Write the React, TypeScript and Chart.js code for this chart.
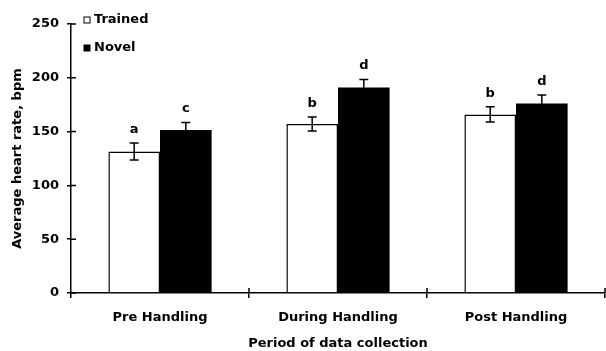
import React, { useEffect, useRef } from "react";
import { Chart, registerables } from "chart.js";

Chart.register(...registerables);

const categories = ["Pre Handling", "During Handling", "Post Handling"];
const trainedValues = [131.5, 157, 166];
const novelValues = [151.5, 191, 176];
const trainedErrors = [8, 6.5, 7];
const novelErrors = [7, 7.5, 8];
const trainedLetters = ["a", "b", "b"];
const novelLetters = ["c", "d", "d"];
const seriesNames = ["Trained", "Novel"];
const yMin = 0;
const yMax = 250;
const yStep = 50;
const xTitle = "Period of data collection";
const yTitle = "Average heart rate, bpm";

const FONT = "'DejaVu Sans', sans-serif";

const errorBarPlugin = {
  id: "errorBars",
  afterDatasetsDraw(chart: any) {
    const ctx = chart.ctx;
    const yScale = chart.scales.y;
    chart.data.datasets.forEach((ds: any, di: number) => {
      const meta = chart.getDatasetMeta(di);
      const errs: number[] = ds.errors;
      const letters: string[] = ds.letters;
      meta.data.forEach((el: any, i: number) => {
        const v = ds.data[i];
        const e = errs[i];
        const x = el.x;
        const yTop = yScale.getPixelForValue(v + e);
        const yBot = yScale.getPixelForValue(v - e);
        ctx.save();
        ctx.strokeStyle = "#000";
        ctx.lineWidth = 1.5;
        ctx.beginPath();
        ctx.moveTo(x, yTop);
        ctx.lineTo(x, yBot);
        ctx.moveTo(x - 4.5, yTop);
        ctx.lineTo(x + 4.5, yTop);
        ctx.moveTo(x - 4.5, yBot);
        ctx.lineTo(x + 4.5, yBot);
        ctx.stroke();
        ctx.fillStyle = "#000";
        ctx.font = `bold 13px ${FONT}`;
        ctx.textAlign = "center";
        ctx.textBaseline = "alphabetic";
        ctx.fillText(letters[i], x, yTop - 10);
        ctx.restore();
      });
    });
  },
};

const crossTickPlugin = {
  id: "crossTicks",
  afterDraw(chart: any) {
    const ctx = chart.ctx;
    const { left, right, bottom } = chart.chartArea;
    const yScale = chart.scales.y;
    ctx.save();
    ctx.strokeStyle = "#000";
    ctx.lineWidth = 1.5;
    ctx.beginPath();
    yScale.ticks.forEach((t: any) => {
      const y = yScale.getPixelForValue(t.value);
      ctx.moveTo(left, y);
      ctx.lineTo(left + 5, y);
    });
    const n = chart.data.labels.length;
    for (let i = 1; i <= n; i++) {
      const x = left + ((right - left) * i) / n;
      ctx.moveTo(x, bottom);
      ctx.lineTo(x, bottom - 5);
    }
    ctx.stroke();
    ctx.restore();
  },
};

const legendPlugin = {
  id: "customLegend",
  afterDraw(chart: any) {
    const ctx = chart.ctx;
    const { left, top } = chart.chartArea;
    ctx.save();
    ctx.font = `bold 13px ${FONT}`;
    ctx.textBaseline = "middle";
    ctx.textAlign = "left";
    chart.data.datasets.forEach((ds: any, i: number) => {
      const cy = top - 4 + i * 28;
      ctx.fillStyle = ds.backgroundColor;
      ctx.fillRect(left + 13, cy - 3, 6, 6);
      ctx.strokeStyle = "#000";
      ctx.lineWidth = 1;
      ctx.strokeRect(left + 13, cy - 3, 6, 6);
      ctx.fillStyle = "#000";
      ctx.fillText(ds.label, left + 23, cy);
    });
    ctx.restore();
  },
};

export default function App() {
  const ref = useRef<HTMLCanvasElement | null>(null);
  useEffect(() => {
    if (!ref.current) return;
    const chart = new Chart(ref.current, {
      type: "bar",
      data: {
        labels: categories,
        datasets: [
          {
            label: seriesNames[0],
            data: trainedValues,
            backgroundColor: "#ffffff",
            borderColor: "#000000",
            borderWidth: 1.5,
            categoryPercentage: 0.58,
            barPercentage: 1,
            errors: trainedErrors,
            letters: trainedLetters,
          } as any,
          {
            label: seriesNames[1],
            data: novelValues,
            backgroundColor: "#000000",
            borderColor: "#000000",
            borderWidth: 0,
            categoryPercentage: 0.58,
            barPercentage: 1,
            errors: novelErrors,
            letters: novelLetters,
          } as any,
        ],
      },
      options: {
        responsive: false,
        animation: false,
        devicePixelRatio: 1,
        layout: { padding: { top: 24, right: 1, left: 0, bottom: 0 } },
        plugins: {
          legend: { display: false },
          tooltip: { enabled: false },
        },
        scales: {
          x: {
            grid: {
              display: true,
              drawOnChartArea: false,
              drawTicks: true,
              tickLength: 5,
              color: "#000",
              lineWidth: 1.5,
            },
            border: { display: true, color: "#000", width: 1.5 },
            ticks: {
              color: "#000",
              font: { family: FONT, size: 13, weight: "bold" },
              padding: 12,
              maxRotation: 0,
            },
            title: {
              display: true,
              text: xTitle,
              color: "#000",
              font: { family: FONT, size: 13, weight: "bold" },
              padding: { top: 0, bottom: 0 },
            },
            afterFit(scale: any) {
              scale.height = 58;
            },
          },
          y: {
            min: yMin,
            max: yMax,
            ticks: {
              stepSize: yStep,
              color: "#000",
              font: { family: FONT, size: 13, weight: "bold" },
              padding: 8,
            },
            grid: {
              display: true,
              drawOnChartArea: false,
              drawTicks: true,
              tickLength: 4,
              color: "#000",
              lineWidth: 1.5,
            },
            border: { display: true, color: "#000", width: 1.5 },
            title: {
              display: true,
              text: yTitle,
              color: "#000",
              font: { family: FONT, size: 13, weight: "bold" },
              padding: { top: 10, bottom: 0 },
            },
            afterFit(scale: any) {
              scale.width = 71;
            },
          },
        },
      },
      plugins: [errorBarPlugin, crossTickPlugin, legendPlugin],
    });
    return () => chart.destroy();
  }, []);
  return (
    <div style={{ position: "absolute", left: 0, top: 0, width: 606, height: 351, background: "#fff" }}>
      <canvas ref={ref} width={606} height={351} />
    </div>
  );
}
